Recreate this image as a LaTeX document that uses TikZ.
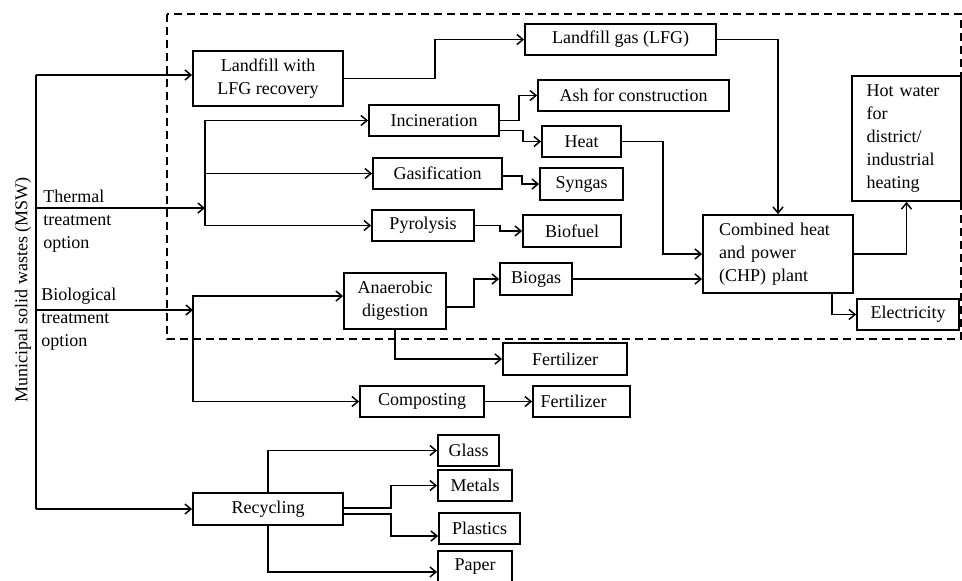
\documentclass[tikz,border=0pt]{standalone}
\usepackage{fontspec}
\setmainfont{Liberation Serif}
\usepackage{tikz}
\usetikzlibrary{arrows.meta, positioning, calc}

\tikzset{
  wbox/.style={draw=black, line width=0.9pt, align=center, inner sep=1pt,
               font=\fontsize{9}{11.5}\selectfont},
  lbox/.style={wbox, align=left, text width=#1},
  lbl/.style={align=left, inner sep=0pt, font=\fontsize{9}{11.5}\selectfont},
  arr/.style={-{Straight Barb[length=3pt, width=5pt]}, line width=0.75pt},
  ln/.style={line width=0.75pt}
}

\begin{document}
\begin{tikzpicture}[x=0.5pt, y=-0.5pt]
  \useasboundingbox (0,0) rectangle (962,580);

  % Dashed frame around energy recovery
  \draw[line width=0.8pt, dash pattern=on 4pt off 2.5pt] (167,14) rectangle (961,339);

  % Boxes
  \node[wbox, minimum width=75pt, minimum height=27.5pt] (landfill) at (268,78.5) {Landfill with\\LFG recovery};
  \node[wbox, minimum width=95.5pt, minimum height=15.5pt] (lfg) at (620.5,39.5) {Landfill gas (LFG)};
  \node[wbox, minimum width=65pt, minimum height=15.5pt] (incin) at (434,120.5) {Incineration};
  \node[wbox, minimum width=64.5pt, minimum height=15.5pt] (gasif) at (437.5,173.5) {Gasification};
  \node[wbox, minimum width=51pt, minimum height=15.5pt] (pyro) at (423,225.5) {Pyrolysis};
  \node[wbox, minimum width=95.5pt, minimum height=15.5pt] (ash) at (633.5,95.5) {Ash for construction};
  \node[wbox, minimum width=39.5pt, minimum height=15.5pt] (heat) at (581.5,141.5) {Heat};
  \node[wbox, minimum width=41.5pt, minimum height=16pt] (syngas) at (581.5,184) {Syngas};
  \node[wbox, minimum width=49pt, minimum height=16pt] (biofuel) at (572,231) {Biofuel};
  \node[lbox=59pt, minimum width=75pt, minimum height=39pt] (chp) at (778,254) {Combined heat\\and power\\(CHP) plant};
  \node[lbox=40pt, minimum width=54.5pt, minimum height=62.5pt] (hotwater) at (906.5,138.5) {Hot water\\for\\district/\\industrial\\heating};
  \node[wbox, minimum width=51pt, minimum height=15.5pt] (elec) at (908,314.5) {Electricity};
  \node[wbox, minimum width=51pt, minimum height=28pt] (anaer) at (395,301) {Anaerobic\\digestion};
  \node[wbox, minimum width=36pt, minimum height=16pt] (biogas) at (536,279) {Biogas};
  \node[wbox, minimum width=62pt, minimum height=16pt] (fertad) at (565,359) {Fertilizer};
  \node[wbox, minimum width=62pt, minimum height=15.5pt] (compost) at (422,401.5) {Composting};
  \node[lbox=41pt, minimum width=48.5pt, minimum height=15.5pt] (fertco) at (581.5,401.5) {Fertilizer};
  \node[wbox, minimum width=75pt, minimum height=16pt] (recyc) at (268,509) {Recycling};
  \node[wbox, minimum width=30.5pt, minimum height=15.5pt] (glass) at (468.5,450.5) {Glass};
  \node[wbox, minimum width=37pt, minimum height=15.5pt] (metals) at (475,485.5) {Metals};
  \node[wbox, minimum width=40.5pt, minimum height=15.5pt] (plastics) at (479.5,528.5) {Plastics};
  \node[wbox, minimum width=37pt, minimum height=16pt] (paper) at (475,567) {Paper};

  % Side labels
  \node[lbl, rotate=90] (msw) at (23,290) {Municipal solid wastes (MSW)};
  \node[lbl, anchor=west] (thermal) at (43,221) {Thermal\\treatment\\option};
  \node[lbl, anchor=west] (bio) at (41,319) {Biological\\treatment\\option};

  % Main MSW line and branches
  \coordinate (mswtop) at (36,75);
  \coordinate (mswbot) at (36,509);
  \coordinate (thstart) at (36,208);
  \coordinate (thsplit) at (205,208);
  \coordinate (bistart) at (36,310);
  \coordinate (bisplit) at (193,310);
  \draw[ln] (mswtop) -- (mswbot);
  \draw[arr] (mswtop) -- (landfill.west |- mswtop);
  \draw[arr] (thstart) -- (thsplit);
  \draw[arr] (bistart) -- (bisplit);
  \draw[arr] (mswbot) -- (recyc.west);

  % Thermal treatment
  \draw[arr] (thsplit) |- (incin.west);
  \draw[arr] (thsplit) |- (gasif.west);
  \draw[arr] (thsplit) |- (pyro.west);
  \draw[arr] (landfill.east) -- ++(91,0) |- (lfg.west);
  \draw[arr] (incin.east) -- ++(19,0) |- (ash.west);
  \draw[arr] ([yshift=-5pt]incin.east) -- ++(23,0) |- (heat.west);
  \draw[arr] ([yshift=-1.25pt]gasif.east) -- ++(19,0) |- (syngas.west);
  \draw[arr] (pyro.east) -- ++(25,0) |- (biofuel.west);

  % CHP plant
  \draw[arr] (lfg.east) -| (chp.north);
  \draw[arr] (heat.east) -- ++(41,0) |- (chp.west);
  \draw[arr] (biogas.east) -- (biogas.east -| chp.west);
  \draw[arr] (chp.east) -| (hotwater.south);
  \draw[arr] ([xshift=27pt]chp.south) |- (elec.west);

  % Biological treatment
  \draw[arr] (bisplit) |- ([yshift=2.5pt]anaer.west);
  \draw[arr] (bisplit) |- (compost.west);
  \draw[arr] ([yshift=-3pt]anaer.east) -- ++(27,0) |- (biogas.west);
  \draw[arr] (anaer.south) |- (fertad.west);
  \draw[arr] (compost.east) -- (fertco.west);

  % Recycling
  \draw[arr] (recyc.north) |- (glass.west);
  \draw[arr] ([yshift=0.5pt]recyc.east) -- ++(47,0) |- (metals.west);
  \draw[arr] ([yshift=-2.5pt]recyc.east) -- ++(47,0) |- ([yshift=-3.75pt]plastics.west);
  \draw[arr] (recyc.south) |- ([yshift=-2.5pt]paper.west);
\end{tikzpicture}
\end{document}
